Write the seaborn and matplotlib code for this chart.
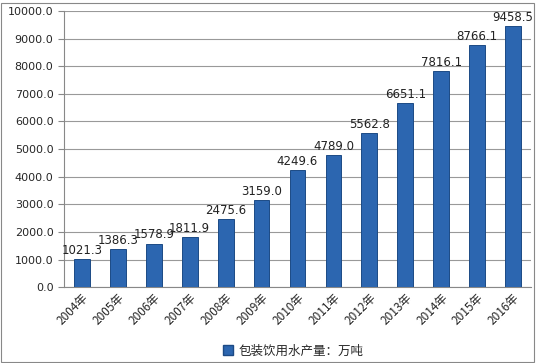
import pandas as pd
import seaborn as sns
import matplotlib.pyplot as plt
from matplotlib.patches import Rectangle

years = ["2004年", "2005年", "2006年", "2007年", "2008年", "2009年", "2010年",
         "2011年", "2012年", "2013年", "2014年", "2015年", "2016年"]
output = [1021.3, 1386.3, 1578.9, 1811.9, 2475.6, 3159.0, 4249.6,
          4789.0, 5562.8, 6651.1, 7816.1, 8766.1, 9458.5]
series_name = "包装饮用水产量：万吨"

df = pd.DataFrame({"year": years, "value": output})

sns.set_style("white")
plt.rcParams['font.family'] = ['Noto Sans CJK SC', 'DejaVu Sans']

fig = plt.figure(figsize=(5.37, 3.63), dpi=100)
ax = fig.add_axes([0.119, 0.209, 0.870, 0.761])

sns.barplot(data=df, x="year", y="value", color="#2C66B0", width=0.44,
            saturation=1, edgecolor="#1C4A85", linewidth=0.7, ax=ax, zorder=3)

for i, v in enumerate(output):
    ax.text(i, v + 80, f"{v:.1f}", ha="center", va="bottom", fontsize=8.5,
            color="#222222", family=['DejaVu Sans'])

ax.set_ylim(0, 10000)
ax.set_xlim(-0.5, len(years) - 0.5)
ax.set_yticks(range(0, 10001, 1000))
ax.set_yticklabels([f"{t:.1f}" for t in range(0, 10001, 1000)], fontsize=8,
                   family=['DejaVu Sans'])
ax.yaxis.grid(True, color="#999999", linewidth=0.8, zorder=0)
ax.set_axisbelow(True)
ax.set_xlabel("")
ax.set_ylabel("")
ax.tick_params(axis="x", length=0, pad=3)
ax.set_xticks(range(len(years)))
ax.set_xticklabels(years, rotation=45, ha="right", rotation_mode="anchor",
                   fontsize=8.5)
ax.set_xticks([i - 0.5 for i in range(len(years) + 1)], minor=True)
ax.tick_params(axis="x", which="minor", length=4, color="#888888", direction="out")
ax.tick_params(axis="y", length=4, color="#888888", direction="out", left=True)
for side in ["top", "right"]:
    ax.spines[side].set_visible(False)
for side in ["left", "bottom"]:
    ax.spines[side].set_color("#888888")
    ax.spines[side].set_linewidth(0.8)

handle = Rectangle((0, 0), 1, 1, facecolor="#2C66B0", edgecolor="#1C4A85")
fig.legend([handle], [series_name], loc="center", bbox_to_anchor=(0.546, 0.033),
           frameon=False, fontsize=9, handlelength=0.8, handleheight=0.8,
           handletextpad=0.4)

fig.add_artist(Rectangle((0.002, 0.003), 0.992, 0.99, transform=fig.transFigure,
                         fill=False, edgecolor="#888888", linewidth=0.8))

fig.savefig("out.png", dpi=100)
